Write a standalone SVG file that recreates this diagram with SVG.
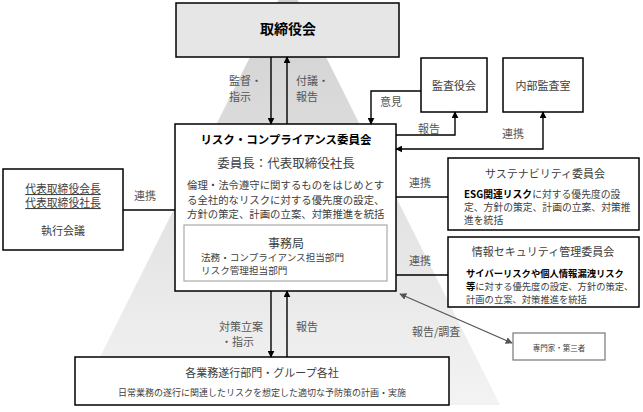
<svg xmlns="http://www.w3.org/2000/svg" width="643" height="412" viewBox="0 0 643 412">
<defs>
<linearGradient id="tri" x1="0" y1="0" x2="0" y2="1">
<stop offset="0" stop-color="#cfcfcf"/>
<stop offset="1" stop-color="#f3f3f3"/>
</linearGradient>
<marker id="ah" viewBox="0 0 10 10" refX="9" refY="5" markerWidth="7" markerHeight="7" orient="auto-start-reverse" markerUnits="userSpaceOnUse">
<path d="M0,0 L10,5 L0,10 z" fill="#000"/>
</marker>
<marker id="ahg" viewBox="0 0 10 10" refX="9" refY="5" markerWidth="7" markerHeight="7" orient="auto-start-reverse" markerUnits="userSpaceOnUse">
<path d="M0,0 L10,5 L0,10 z" fill="#555"/>
</marker>
</defs>
<style>
text{font-family:"Noto Sans CJK JP","Noto Sans",sans-serif;fill:#404040;dominant-baseline:central}
.box{fill:#fff;stroke:#000;stroke-width:1.5}
.b{font-weight:bold;fill:#000}
.c{text-anchor:middle}
.lbl{font-size:11px;fill:#555}
.ln{fill:none;stroke:#000;stroke-width:1.4}
</style>
<polygon points="288,-19 76,405 500,405" fill="url(#tri)"/>

<g id="board">
<rect x="176" y="3" width="223" height="54" fill="#e6e6e6" stroke="#000" stroke-width="1.5"/>
<text x="288" y="28" class="b c" font-size="14">取締役会</text>
</g>

<g id="audit">
<rect class="box" x="421" y="58" width="66" height="54"/>
<text x="454" y="85" class="c" font-size="11">監査役会</text>
</g>

<g id="internal">
<rect class="box" x="503" y="58" width="80" height="54"/>
<text x="543" y="85" class="c" font-size="11">内部監査室</text>
</g>

<g id="rc">
<rect class="box" x="175" y="124" width="221" height="167"/>
<text x="286" y="139" class="b c" font-size="11.5">リスク・コンプライアンス委員会</text>
<text x="286" y="162" class="c" font-size="12.5">委員長：代表取締役社長</text>
<text x="187" y="184" font-size="10.4">倫理・法令遵守に関するものをはじめとす</text>
<text x="187" y="199" font-size="10.4">る全社的なリスクに対する優先度の設定、</text>
<text x="187" y="213" font-size="10.4">方針の策定、計画の立案、対策推進を統括</text>
<rect x="184" y="225" width="203" height="56" fill="#fff" stroke="#aaa" stroke-width="1.2"/>
<text x="286" y="242" class="c" font-size="12">事務局</text>
<text x="201" y="257" font-size="9.6">法務・コンプライアンス担当部門</text>
<text x="201" y="270" font-size="9.6">リスク管理担当部門</text>
</g>

<g id="exec">
<rect class="box" x="3" y="169" width="120" height="81"/>
<text x="63" y="188" class="c" font-size="10.8" text-decoration="underline">代表取締役会長</text>
<text x="63" y="202" class="c" font-size="10.8" text-decoration="underline">代表取締役社長</text>
<text x="63" y="230" class="c" font-size="11">執行会議</text>
</g>

<g id="sustain">
<rect class="box" x="448" y="158" width="191" height="72"/>
<text x="545" y="173" class="c" font-size="11">サステナビリティ委員会</text>
<text x="464" y="194" font-size="9.8"><tspan class="b">ESG関連リスク</tspan>に対する優先度の設</text>
<text x="464" y="207" font-size="9.8">定、方針の策定、計画の立案、対策推</text>
<text x="464" y="220" font-size="9.8">進を統括</text>
</g>

<g id="infosec">
<rect class="box" x="448" y="237" width="191" height="70"/>
<text x="543" y="251" class="c" font-size="11">情報セキュリティ管理委員会</text>
<text x="466" y="272.5" font-size="9.3" class="b">サイバーリスクや個人情報漏洩リスク</text>
<text x="466" y="285.8" font-size="9.3"><tspan class="b">等</tspan>に対する優先度の設定、方針の策定、</text>
<text x="466" y="299" font-size="9.3">計画の立案、対策推進を統括</text>
</g>

<g id="expert">
<rect x="513" y="333" width="92" height="27" fill="#fff" stroke="#777" stroke-width="1.2"/>
<text x="559" y="347" class="c" font-size="7.5">専門家・第三者</text>
</g>

<g id="ops">
<rect class="box" x="75" y="357" width="374" height="48"/>
<text x="262" y="372" class="c" font-size="11">各業務遂行部門・グループ各社</text>
<text x="262" y="392" class="c" font-size="9">日常業務の遂行に関連したリスクを想定した適切な予防策の計画・実施</text>
</g>

<g id="connectors">
<line class="ln" x1="271" y1="57" x2="271" y2="124" marker-end="url(#ah)"/>
<line class="ln" x1="287" y1="124" x2="287" y2="57" marker-end="url(#ah)"/>
<polyline class="ln" points="421,91 371,91 371,124" marker-end="url(#ah)"/>
<polyline class="ln" points="396,135 455,135 455,112" marker-end="url(#ah)"/>
<polyline class="ln" points="396,149 543,149 543,112" marker-start="url(#ah)" marker-end="url(#ah)"/>
<line class="ln" x1="396" y1="197" x2="448" y2="197"/>
<line class="ln" x1="396" y1="275" x2="448" y2="275"/>
<line class="ln" x1="123" y1="210" x2="175" y2="210"/>
<line class="ln" x1="271" y1="291" x2="271" y2="357" marker-end="url(#ah)"/>
<line class="ln" x1="287" y1="357" x2="287" y2="291" marker-end="url(#ah)"/>
<line x1="400" y1="294" x2="512" y2="343" stroke="#555" stroke-width="1.2" marker-start="url(#ahg)" marker-end="url(#ahg)"/>
<text x="229" y="80" class="lbl">監督・</text>
<text x="229" y="96" class="lbl">指示</text>
<text x="296" y="80" class="lbl">付議・</text>
<text x="296" y="96" class="lbl">報告</text>
<text x="380" y="101" class="lbl">意見</text>
<text x="418" y="128" class="lbl">報告</text>
<text x="502" y="133" class="lbl">連携</text>
<text x="409" y="182" class="lbl">連携</text>
<text x="409" y="260" class="lbl">連携</text>
<text x="134" y="195" class="lbl">連携</text>
<text x="219" y="326" class="lbl">対策立案</text>
<text x="221" y="341" class="lbl">・指示</text>
<text x="296" y="326" class="lbl">報告</text>
<text x="412" y="331" class="lbl">報告/調査</text>
</g>
</svg>
